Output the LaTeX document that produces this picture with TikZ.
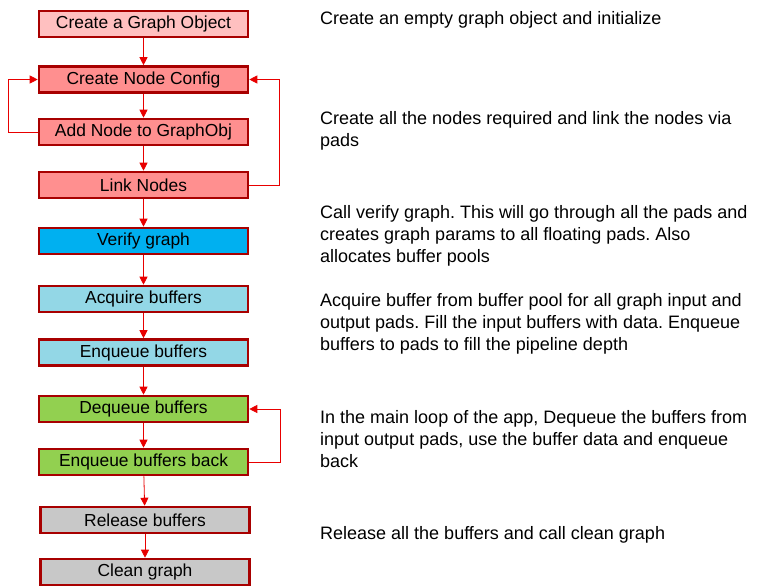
\documentclass[tikz,border=0pt]{standalone}
\usepackage{fontspec}
\setmainfont{Liberation Sans}
\usetikzlibrary{arrows.meta}
\definecolor{boxedge}{RGB}{168,0,0}
\definecolor{flowred}{RGB}{232,0,0}
\definecolor{pinklight}{RGB}{255,192,192}
\definecolor{salmon}{RGB}{255,143,143}
\definecolor{verifyblue}{RGB}{0,176,240}
\definecolor{bufblue}{RGB}{147,215,230}
\definecolor{loopgreen}{RGB}{146,208,80}
\definecolor{endgrey}{RGB}{200,200,200}
\begin{document}
\frenchspacing
\begin{tikzpicture}[x=1pt, y=-1pt,
        stage/.style={draw=boxedge, line width=2.6pt, minimum width=209pt, minimum height=26pt,
            inner sep=0pt, font=\fontsize{17.4}{18}\selectfont},
        flow/.style={draw=flowred, line width=0.8pt, -{Triangle[length=8pt, width=8pt]}},
        note/.style={anchor=west, align=left, inner sep=0pt, font=\fontsize{18}{22}\selectfont}]
    \useasboundingbox[fill=white] (0, 0) rectangle (770, 587);
    % left column: the stages
    \node[stage, fill=pinklight] (create) at (143.5, 24) {Create a Graph Object};
    \node[stage, fill=salmon] (config) at (143.5, 79.5) {Create Node Config};
    \node[stage, fill=salmon] (addnode) at (143.5, 132) {Add Node to GraphObj};
    \node[stage, fill=salmon] (link) at (143.5, 185) {Link Nodes};
    \node[stage, fill=verifyblue] (verify) at (143.5, 241) {Verify graph};
    \node[stage, fill=bufblue] (acquire) at (143.5, 299) {Acquire buffers};
    \node[stage, fill=bufblue] (enqueue) at (143.5, 352.5) {Enqueue buffers};
    \node[stage, fill=loopgreen] (dequeue) at (143.5, 409) {Dequeue buffers};
    \node[stage, fill=loopgreen] (enqback) at (143.5, 462) {Enqueue buffers back};
    \node[stage, fill=endgrey] (release) at (145, 520) {Release buffers};
    \node[stage, fill=endgrey] (clean) at (145, 572) {Clean graph};

    \draw[flow] (create) -- (config);
    \draw[flow] (config) -- (addnode);
    \draw[flow] (addnode) -- (link);
    \draw[flow] (link) -- (verify);
    \draw[flow] (verify) -- (acquire);
    \draw[flow] (acquire) -- (enqueue);
    \draw[flow] (enqueue) -- (dequeue);
    \draw[flow] (dequeue) -- (enqback);
    \draw[flow] (enqback) -- (release);
    \draw[flow] (release) -- (clean);
    % loops back
    \draw[flow] (addnode.west) -- ++(-29, 0) |- (config.west);
    \draw[flow] (link.east) -- ++(30, 0) |- (config.east);
    \draw[flow] (enqback.east) -- ++(31, 0) |- (dequeue.east);

    % right column: what each step does
    \node[note] (n1) at (320, 20) {Create an empty graph object and initialize};
    \node[note] (n2) at (320, 131) {Create all the nodes required and link the nodes via\\pads};
    \node[note] (n3) at (320, 235.5) {Call verify graph. This will go through all the pads and\\creates graph params to all floating pads. Also\\allocates buffer pools};
    \node[note] (n4) at (320, 324) {Acquire buffer from buffer pool for all graph input and\\output pads. Fill the input buffers with data. Enqueue\\buffers to pads to fill the pipeline depth};
    \node[note] (n5) at (320, 439) {In the main loop of the app, Dequeue the buffers from\\input output pads, use the buffer data and enqueue\\back};
    \node[note] (n6) at (320, 535) {Release all the buffers and call clean graph};
\end{tikzpicture}
\end{document}
